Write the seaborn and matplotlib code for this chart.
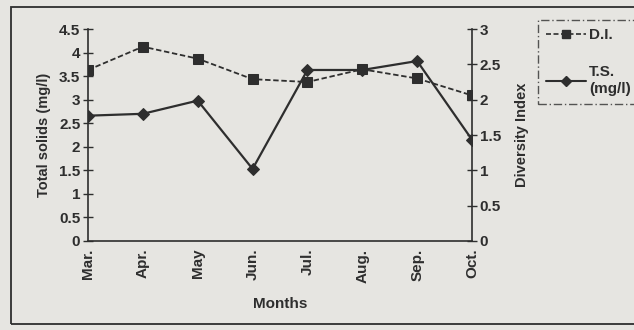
import matplotlib
matplotlib.use("Agg")
import matplotlib.pyplot as plt
import pandas as pd
import seaborn as sns
from matplotlib.patches import Rectangle
from matplotlib.lines import Line2D

# values
months = ["Mar.", "Apr.", "May", "Jun.", "Jul.", "Aug.", "Sep.", "Oct."]
total_solids = [2.66, 2.70, 2.98, 1.53, 3.63, 3.63, 3.82, 2.15]   # mg/l, left axis
diversity = [2.42, 2.75, 2.58, 2.29, 2.25, 2.43, 2.30, 2.06]      # D.I., right axis

df = pd.DataFrame({"pos": range(len(months)), "month": months,
                   "ts": total_solids, "di": diversity})

sns.set_theme(style="white")
plt.rcParams["font.family"] = ["Liberation Sans", "DejaVu Sans"]
bg = "#e6e5e1"
ink = "#2e2e2e"
plt.rcParams["text.color"] = ink
plt.rcParams["axes.labelcolor"] = ink
plt.rcParams["xtick.color"] = ink
plt.rcParams["ytick.color"] = ink

fig = plt.figure(figsize=(6.34, 3.30), dpi=100, facecolor=bg)
ax = fig.add_axes([88 / 634, 1 - 241 / 330, (472 - 88) / 634, (241 - 29) / 330])
ax.set_facecolor(bg)
ax2 = ax.twinx()

sns.lineplot(data=df, x="pos", y="ts", ax=ax, color=ink, linewidth=1.6,
             marker="D", markersize=6, markeredgecolor=ink)
sns.lineplot(data=df, x="pos", y="di", ax=ax2, color=ink, linewidth=1.3,
             linestyle=(0, (3, 1.5)), marker="s", markersize=7, markeredgecolor=ink)

ax.set_xlim(0, len(months) - 1)
ax.set_ylim(0, 4.5)
ax2.set_ylim(0, 3)
ax.set_yticks([0, 0.5, 1, 1.5, 2, 2.5, 3, 3.5, 4, 4.5])
ax.set_yticklabels(["0", "0.5", "1", "1.5", "2", "2.5", "3", "3.5", "4", "4.5"])
ax2.set_yticks([0, 0.5, 1, 1.5, 2, 2.5, 3])
ax2.set_yticklabels(["0", "0.5", "1", "1.5", "2", "2.5", "3"])
ax.set_xticks(df["pos"])
ax.set_xticklabels(months, rotation=90)

for a in (ax, ax2):
    for s in a.spines.values():
        s.set_color(ink)
        s.set_linewidth(1.2)
    a.spines["top"].set_visible(False)
    a.tick_params(direction="inout", length=7, width=1, labelsize=11, pad=2)
    for lab in a.get_xticklabels() + a.get_yticklabels():
        lab.set_fontweight("bold")
ax.spines["right"].set_visible(False)
ax2.spines["left"].set_visible(False)
ax2.spines["bottom"].set_visible(False)

ax.set_xlabel("Months", fontsize=11, fontweight="bold", labelpad=10)
ax.set_ylabel("Total solids (mg/l)", fontsize=10.5, fontweight="bold", labelpad=6)
ax2.set_ylabel("Diversity Index", fontsize=10.5, fontweight="bold", labelpad=10)

handles = [
    Line2D([], [], color=ink, linestyle=(0, (3, 1.5)), marker="s", markersize=6, linewidth=1.2),
    Line2D([], [], color=ink, marker="D", markersize=5, linewidth=1.5),
]
leg = fig.legend(handles, ["D.I.", "T.S.\n(mg/l)"], loc="upper left",
                 bbox_to_anchor=(538 / 634, 1 - 20 / 330), frameon=True, fancybox=False,
                 handlelength=2.6, handletextpad=0.2, labelspacing=1.5,
                 prop={"weight": "bold", "size": 11}, borderpad=0.55, borderaxespad=0)
leg.get_frame().set_edgecolor(ink)
leg.get_frame().set_facecolor(bg)
leg.get_frame().set_linestyle((0, (6, 2, 1, 2)))
leg.get_frame().set_linewidth(1)

# outer frame of the scanned figure (its right edge runs off the scan)
fig.patches.append(Rectangle((11 / 634, 1 - 324 / 330), 640 / 634, 317 / 330,
                             transform=fig.transFigure, fill=False,
                             edgecolor=ink, linewidth=1.3))

fig.savefig("out.png", dpi=100, facecolor=bg)
